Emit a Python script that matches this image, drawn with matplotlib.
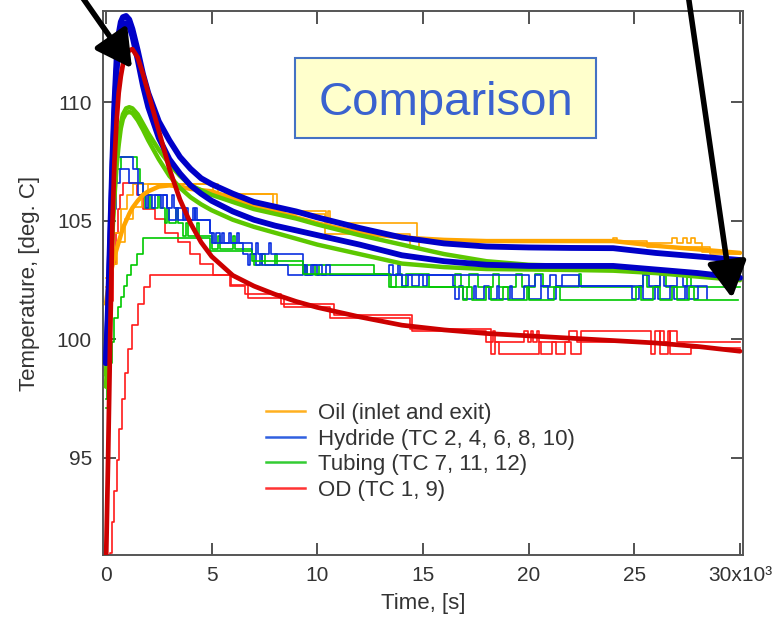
import matplotlib
matplotlib.use("Agg")
import matplotlib.pyplot as plt
from matplotlib.lines import Line2D
from matplotlib.patches import Rectangle

plt.rcParams['font.family'] = ['Liberation Sans', 'DejaVu Sans']

# ---------------- data ----------------
x_ticks = [0, 5000, 10000, 15000, 20000, 25000, 30000]
x_tick_labels = ['0', '5', '10', '15', '20', '25', '30x10³']
y_ticks = [95, 100, 105, 110]
y_tick_labels = ['95', '100', '105', '110']

legend_labels = ['Oil (inlet and exit)', 'Hydride (TC 2, 4, 6, 8, 10)',
                 'Tubing (TC 7, 11, 12)', 'OD (TC 1, 9)']

# model (smooth) curves, time in s
t_model = [0, 100, 200, 300, 400, 500, 600, 700, 800, 950, 1100, 1250, 1500, 1750,
           2000, 2500, 3000, 3500, 4000, 4500, 5000, 6000, 7000, 8000, 9000, 10000,
           12000, 14000, 16000, 18000, 20000, 22000, 24000, 26000, 28000, 30000]
hyd_model_1 = [99.0, 101.5, 104.5, 107.5, 110.0, 111.8, 112.9, 113.4, 113.6, 113.65,
               113.5, 113.1, 112.2, 111.2, 110.4, 109.2, 108.4, 107.7, 107.2, 106.8,
               106.55, 106.15, 105.8, 105.6, 105.4, 105.15, 104.7, 104.3, 104.05,
               103.92, 103.88, 103.86, 103.85, 103.65, 103.5, 103.35]
hyd_model_2 = [99.0, 101.0, 104.0, 107.0, 109.5, 111.3, 112.5, 113.0, 113.3, 113.35,
               113.2, 112.8, 111.8, 110.7, 109.8, 108.5, 107.6, 107.0, 106.5, 106.15,
               105.85, 105.4, 105.05, 104.8, 104.6, 104.4, 104.0, 103.55, 103.3,
               103.15, 103.1, 103.1, 103.1, 102.95, 102.8, 102.6]
tub_model_1 = [98.5, 100.5, 102.8, 104.8, 106.4, 107.6, 108.5, 109.1, 109.5, 109.75,
               109.8, 109.75, 109.5, 109.1, 108.7, 108.0, 107.4, 106.9, 106.5, 106.3,
               106.1, 105.8, 105.5, 105.3, 105.1, 104.85, 104.4, 104.0, 103.6, 103.3,
               103.15, 103.1, 103.05, 102.9, 102.75, 102.6]
tub_model_2 = [98.0, 100.0, 102.4, 104.4, 106.0, 107.3, 108.2, 108.9, 109.3, 109.55,
               109.6, 109.55, 109.25, 108.85, 108.4, 107.6, 106.9, 106.4, 106.0, 105.7,
               105.45, 105.05, 104.75, 104.5, 104.25, 104.0, 103.6, 103.2, 103.05,
               102.97, 102.95, 102.93, 102.9, 102.8, 102.65, 102.5]
od_model = [90.5, 95.0, 100.2, 104.8, 107.5, 109.2, 110.4, 111.1, 111.6, 112.0, 112.2,
            112.25, 111.9, 111.2, 110.4, 108.8, 107.2, 105.9, 104.9, 104.1, 103.5,
            102.7, 102.25, 101.9, 101.6, 101.35, 100.95, 100.6, 100.4, 100.25, 100.15,
            100.05, 99.95, 99.85, 99.7, 99.5]
oil_model = [101.5, 102.2, 102.7, 103.1, 103.5, 103.8, 104.1, 104.4, 104.7, 105.0,
             105.3, 105.55, 105.85, 106.1, 106.25, 106.45, 106.5, 106.45, 106.35, 106.3,
             106.25, 105.95, 105.65, 105.4, 105.15, 104.9, 104.5, 104.3, 104.2, 104.15,
             104.15, 104.15, 104.15, 103.95, 103.8, 103.65]

# measured (quantised, stepped) thermocouple records: (time s, temperature C)
oil_meas_a = [(0, 102.6), (150, 103.6), (400, 104.5), (700, 105.5), (1000, 106.1),
              (1300, 106.55), (5060, 106.15), (7900, 105.4), (10400, 104.9),
              (10500, 105.4), (10600, 104.9), (14700, 104.15), (24300, 104.05),
              (26800, 104.3), (27000, 104.05), (27300, 104.3), (27500, 104.05),
              (27700, 104.3), (27850, 104.05), (28200, 103.7), (30000, 103.7)]
oil_meas_b = [(0, 102.2), (200, 103.2), (500, 104.1), (900, 105.1), (1300, 105.6),
              (1700, 106.1), (2000, 106.55), (5300, 106.15), (8100, 105.3),
              (10350, 104.45), (14400, 103.85), (14800, 104.15), (24000, 104.3),
              (24200, 104.15), (25600, 103.9), (28600, 103.6), (30000, 103.6)]
hyd_meas_a = [(0, 99.2), (80, 101.4), (160, 103.6), (250, 105.5), (350, 106.6),
              (500, 107.7), (1300, 107.2), (1500, 106.6), (1750, 106.1), (1900, 105.55),
              (2000, 106.1), (2200, 105.55), (2300, 106.1), (2600, 105.55), (2700, 106.1),
              (2900, 105.55), (3100, 106.1), (3200, 105.55), (3650, 105.05),
              (3800, 105.55), (3900, 105.05), (4200, 105.55), (4300, 105.05),
              (4900, 104.5), (5100, 104.05), (5200, 104.5), (5400, 104.05),
              (5800, 104.5), (5900, 104.05), (6500, 103.6), (6700, 103.15),
              (6800, 103.6), (7100, 103.15), (7300, 103.6), (7400, 103.15),
              (8600, 102.7), (9300, 103.15), (9500, 102.7), (9800, 103.15),
              (10000, 102.7), (13400, 103.15), (13600, 102.7), (13800, 103.15),
              (13900, 102.7), (16400, 102.25), (16500, 101.7), (16700, 102.25),
              (16900, 101.7), (17400, 102.25), (17500, 101.7), (17900, 102.25),
              (18100, 101.7), (18500, 102.25), (18600, 101.7), (19100, 102.25),
              (19200, 101.7), (19800, 102.25), (20000, 101.7), (20600, 102.25),
              (20900, 101.7), (21300, 102.25), (24900, 101.7), (25200, 102.25),
              (25400, 101.7), (26000, 102.25), (26100, 101.7), (26700, 102.25),
              (26900, 101.7), (27400, 102.25), (27500, 101.7), (28000, 102.25),
              (28450, 101.7)]
hyd_meas_b = [(0, 99.0), (100, 101.9), (200, 104.0), (300, 105.5), (450, 106.6),
              (650, 107.2), (1100, 106.6), (1500, 106.1), (2900, 105.55),
              (3000, 105.05), (3300, 105.55), (3400, 105.05), (3700, 105.55),
              (3800, 105.05), (4100, 105.55), (4200, 105.05), (4900, 104.5),
              (5000, 104.05), (5500, 104.5), (5600, 104.05), (6200, 104.5),
              (6300, 104.05), (6900, 103.6), (7100, 104.05), (7200, 103.6),
              (7700, 104.05), (7800, 103.6), (9300, 103.15), (9400, 102.7),
              (9700, 103.15), (10200, 102.7), (10400, 103.15), (10600, 102.7),
              (13900, 102.7), (14000, 102.25), (14300, 102.7), (14500, 102.25),
              (14800, 102.7), (15000, 102.25), (15200, 102.7), (20000, 102.25),
              (20300, 102.7), (20600, 102.25), (21000, 102.7), (21300, 102.25),
              (21600, 102.7), (22400, 102.25), (25400, 102.7), (25700, 102.25),
              (26200, 102.7), (26400, 102.25), (27000, 102.7), (27300, 102.25),
              (27950, 102.25)]
tub_meas_a = [(0, 97.5), (60, 99.4), (120, 101.6), (200, 103.6), (300, 105.5),
              (400, 106.6), (500, 107.2), (700, 107.7), (1450, 107.2), (1600, 106.6),
              (1750, 106.1), (1850, 105.55), (2050, 106.1), (2150, 105.55),
              (2450, 106.1), (2550, 105.55), (2800, 104.9), (2900, 105.55),
              (3000, 104.9), (3300, 105.55), (3400, 104.9), (3650, 104.35),
              (3800, 104.9), (3900, 104.35), (4300, 104.9), (4400, 104.35),
              (5000, 103.8), (5300, 104.35), (5400, 103.8), (6000, 104.35),
              (6100, 103.8), (6900, 103.6), (7000, 103.15), (7400, 103.6),
              (7500, 103.15), (8000, 103.6), (8100, 103.15), (9400, 102.7),
              (9500, 103.15), (9900, 102.7), (10100, 103.15), (12700, 102.75),
              (13500, 102.2), (13700, 102.75), (14000, 102.2), (14200, 102.75),
              (15300, 102.2), (16500, 102.75), (16800, 102.2), (17200, 102.75),
              (17600, 102.2), (18300, 102.75), (18600, 102.2), (19400, 102.75),
              (19700, 102.2), (20300, 102.75), (20700, 102.2), (22400, 102.75),
              (22500, 102.2), (25400, 102.75), (25600, 102.2), (26200, 102.75),
              (26500, 102.2), (27500, 102.75), (27700, 102.2), (30000, 102.2)]
tub_meas_b = [(0, 97.1), (100, 98.0), (200, 99.0), (300, 99.9), (400, 100.9),
              (550, 101.35), (700, 101.8), (850, 102.25), (1000, 102.7),
              (1200, 103.15), (1450, 103.6), (1750, 104.3), (4900, 103.75),
              (6900, 103.3), (9300, 102.75), (13400, 102.2), (16900, 101.65),
              (17100, 102.2), (17300, 101.65), (18000, 102.2), (18200, 101.65),
              (18800, 102.2), (19000, 101.65), (19900, 102.2), (20000, 101.65),
              (21200, 102.2), (21500, 101.65), (25100, 102.2), (25300, 101.65),
              (25900, 102.2), (26200, 101.65), (26800, 102.2), (27000, 101.65),
              (27600, 102.2), (27800, 101.65), (29900, 101.65)]
od_meas_a = [(0, 91.0), (60, 93.2), (100, 95.5), (150, 97.8), (200, 100.0),
             (250, 101.6), (350, 103.2), (450, 104.5), (550, 105.5), (650, 106.1),
             (800, 106.6), (1470, 106.1), (1750, 105.5), (2300, 105.1), (2800, 104.5),
             (3400, 104.1), (3970, 103.6), (4450, 103.2), (5060, 102.7),
             (5870, 102.25), (6600, 101.9), (8300, 101.5), (10800, 101.05),
             (14500, 100.35), (18000, 99.9), (18300, 100.35), (18400, 99.9),
             (19800, 100.35), (19950, 99.9), (20100, 100.35), (20200, 99.9),
             (20400, 100.35), (20500, 99.9), (21900, 100.35), (22300, 99.9),
             (26200, 100.35), (26400, 99.9), (26700, 100.35), (27000, 99.9),
             (30000, 99.9)]
od_meas_b = [(0, 90.0), (200, 91.0), (300, 92.3), (400, 93.6), (500, 94.9),
             (600, 96.2), (750, 97.5), (900, 98.6), (1050, 99.6), (1250, 100.6),
             (1500, 101.5), (1800, 102.2), (2100, 102.7), (5900, 102.3),
             (6700, 101.75), (8400, 101.35), (10600, 100.9), (14400, 100.45),
             (18200, 99.4), (18400, 99.9), (18600, 99.4), (20500, 99.9),
             (20600, 99.4), (21100, 99.9), (21300, 99.4), (21700, 99.9),
             (22000, 99.4), (22500, 100.35), (25800, 99.4), (26000, 100.35),
             (26200, 99.4), (26600, 100.35), (26700, 99.4), (27700, 99.65),
             (30000, 99.65)]

# ---------------- figure ----------------
fig = plt.figure(figsize=(7.83, 6.19), dpi=100)
ax = fig.add_axes([103 / 783, 64 / 619, 640 / 783, 544 / 619])

thin_lw = 1.2
def steps(series, color):
    t = [p[0] for p in series]
    v = [p[1] for p in series]
    ax.plot(t, v, drawstyle='steps-post', color=color, lw=thin_lw, zorder=2)

steps(od_meas_a, '#FF1A1A')
steps(od_meas_b, '#FF1A1A')
steps(oil_meas_a, '#FFA500')
steps(oil_meas_b, '#FFA500')
steps(tub_meas_a, '#00C800')
steps(hyd_meas_a, '#0A2FE0')
steps(hyd_meas_b, '#0A2FE0')
steps(tub_meas_b, '#00C800')

ax.plot(t_model, oil_model, color='#FFA500', lw=3.2, zorder=3, solid_capstyle='round')
ax.plot(t_model, tub_model_2, color='#5CC800', lw=3.2, zorder=4, solid_capstyle='round')
ax.plot(t_model, tub_model_1, color='#5CC800', lw=3.2, zorder=4, solid_capstyle='round')
ax.plot(t_model, hyd_model_2, color='#0000C8', lw=4.2, zorder=5, solid_capstyle='round')
ax.plot(t_model, hyd_model_1, color='#0000C8', lw=4.2, zorder=5, solid_capstyle='round')
ax.plot(t_model, od_model, color='#CC0000', lw=3.4, zorder=6, solid_capstyle='round')

ax.set_xlim(-142, 30142)
ax.set_ylim(90.9, 113.86)
ax.set_xticks(x_ticks)
ax.set_xticklabels(x_tick_labels)
ax.set_yticks(y_ticks)
ax.set_yticklabels(y_tick_labels)
ax.tick_params(direction='in', length=9, width=1.3, colors='#444444',
               labelcolor='#333333', labelsize=15, top=True, right=True, pad=8)
for s in ax.spines.values():
    s.set_color('#555555')
    s.set_linewidth(1.4)

ax.set_xlabel('Time, [s]', fontsize=16, color='#333333', labelpad=6)
ax.set_ylabel('Temperature, [deg. C]', fontsize=16, color='#333333', labelpad=12)

handles = [Line2D([], [], color=c, lw=1.8) for c in
           ['#FFB020', '#3060E0', '#33CC33', '#FF3333']]
ax.legend(handles, legend_labels, loc='upper left', bbox_to_anchor=(0.255, 0.279),
          frameon=False, fontsize=16, handlelength=1.75, handletextpad=0.6,
          labelspacing=0.2, borderpad=0, borderaxespad=0, labelcolor='#333333')

# "Comparison" box
fig.patches.append(Rectangle((295 / 783, (619 - 138) / 619), 301 / 783, 80 / 619,
                             transform=fig.transFigure, facecolor='#FFFFCC',
                             edgecolor='#4472C4', lw=1.5, zorder=10))
fig.text(446 / 783, (619 - 115) / 619, 'Comparison', fontsize=34, color='#3A62CF',
         ha='center', va='baseline', zorder=11)

# arrows
arrow_style = '-|>,head_length=0.55,head_width=0.3'
ax.annotate('', xy=(1230, 111.44), xycoords='data', xytext=(80, 625),
            textcoords='figure pixels', annotation_clip=False,
            arrowprops=dict(arrowstyle=arrow_style, color='black', lw=4,
                            mutation_scale=40, shrinkA=0, shrinkB=0), zorder=12)
ax.annotate('', xy=(29630, 101.74), xycoords='data', xytext=(688, 625),
            textcoords='figure pixels', annotation_clip=False,
            arrowprops=dict(arrowstyle=arrow_style, color='black', lw=4,
                            mutation_scale=40, shrinkA=0, shrinkB=0), zorder=12)

fig.savefig('out.png', dpi=100)
